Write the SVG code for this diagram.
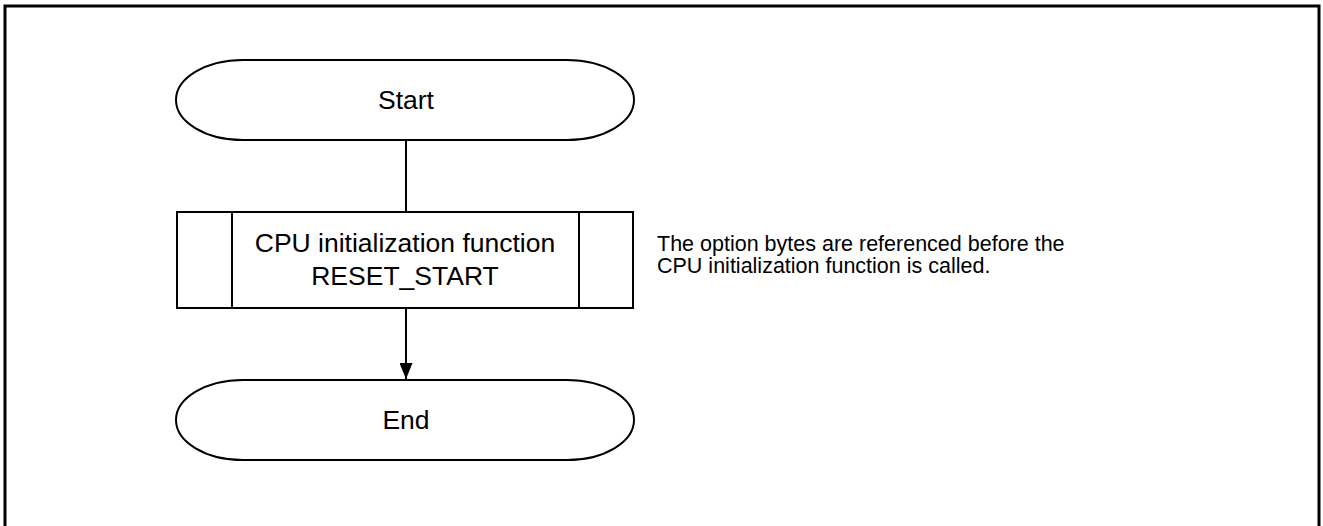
<svg xmlns="http://www.w3.org/2000/svg" width="1323" height="526" viewBox="0 0 1323 526">
<defs>
<style>
.shape{fill:#fff;stroke:#000;stroke-width:2}
.lbl{font-family:"Liberation Sans",Arial,sans-serif;font-size:26.5px;fill:#000;text-anchor:middle}
.note{font-family:"Liberation Sans",Arial,sans-serif;font-size:21.5px;fill:#000}
.conn{fill:none;stroke:#000;stroke-width:2}
</style>
<marker id="arr" viewBox="0 0 16 13" refX="16" refY="6.5" markerWidth="16" markerHeight="13" markerUnits="userSpaceOnUse" orient="auto">
<path d="M0,0 L16,6.5 L0,13 z" fill="#000"/>
</marker>
</defs>
<rect width="1323" height="526" fill="#fff"/>
<rect id="frame" x="5" y="6" width="1314" height="540" fill="none" stroke="#000" stroke-width="3"/>
<g id="connectors">
<line class="conn" x1="406" y1="140" x2="406" y2="212"/>
<line class="conn" x1="406" y1="308" x2="406" y2="379" marker-end="url(#arr)"/>
</g>
<g id="start">
<path class="shape" d="M243,60 H567 A67,40 0 0 1 567,140 H243 A67,40 0 0 1 243,60 Z"/>
<text class="lbl" x="406" y="109">Start</text>
</g>
<g id="cpu_init">
<rect class="shape" x="177" y="212" width="456" height="96"/>
<line class="conn" x1="232" y1="212" x2="232" y2="308"/>
<line class="conn" x1="579" y1="212" x2="579" y2="308"/>
<text class="lbl" x="405" y="252">CPU initialization function</text>
<text class="lbl" x="405" y="285">RESET_START</text>
</g>
<g id="end">
<path class="shape" d="M243,380 H567 A67,40 0 0 1 567,460 H243 A67,40 0 0 1 243,380 Z"/>
<text class="lbl" x="406" y="429">End</text>
</g>
<g id="note">
<text class="note" x="657" y="251">The option bytes are referenced before the</text>
<text class="note" x="657" y="273">CPU initialization function is called.</text>
</g>
</svg>
